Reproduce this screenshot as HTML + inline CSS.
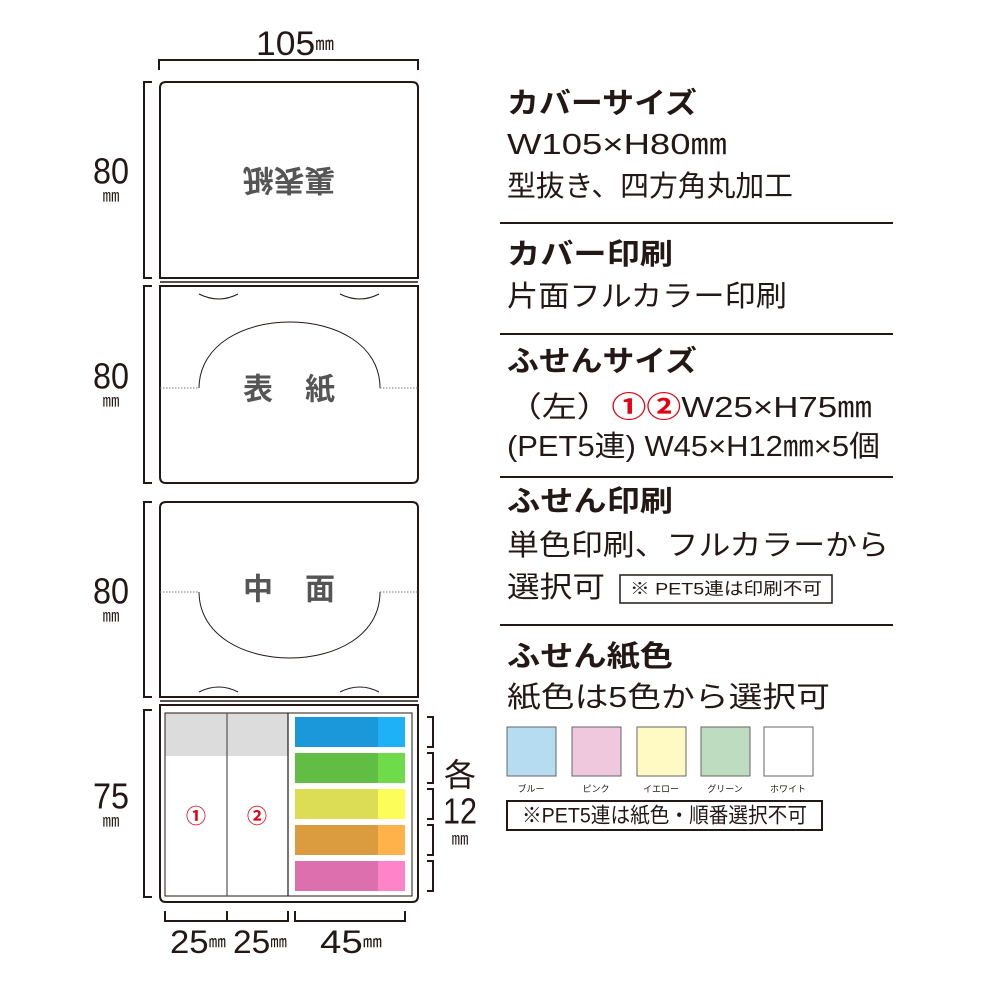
<!DOCTYPE html>
<html><head><meta charset="utf-8"><style>
html,body{margin:0;padding:0;background:#fff}
svg{display:block}
text{font-family:"Liberation Sans","Noto Sans CJK JP",sans-serif;fill:#231815}
</style></head><body>
<svg width="1000" height="1000" viewBox="0 0 1000 1000" xmlns="http://www.w3.org/2000/svg">
<g fill="none" stroke="#231815" stroke-width="2">
<path d="M159,70 V60 H418 V70"/>
<path d="M152,82 H144 V278 H152"/>
<path d="M152,286 H144 V483 H152"/>
<path d="M152,502 H144 V697 H152"/>
<path d="M152,710 H144 V897 H152"/>
<path d="M160,278 V88 Q160,82 166,82 H412 Q418,82 418,88 V278 Z"/>
<path d="M160,286 V477 Q160,483 166,483 H412 Q418,483 418,477 V286 Z"/>
<line x1="160" y1="282" x2="418" y2="282" stroke-width="1.5"/>
<path d="M160,697 V508 Q160,502 166,502 H412 Q418,502 418,508 V697 Z"/>
<path d="M160,705 V896 Q160,902 166,902 H412 Q418,902 418,896 V705 Z"/>
<line x1="160" y1="701" x2="418" y2="701" stroke-width="1.5"/>
</g>
<g fill="none" stroke="#231815" stroke-width="1">
<path d="M199,294 Q219,304 238,294"/>
<path d="M340,294 Q360,304 379,294"/>
<path d="M199,388 C200,300 380,300 380,388"/>
<path d="M199,592 C200,680 380,680 380,592"/>
<path d="M199,692 Q219,682 238,692"/>
<path d="M340,692 Q360,682 379,692"/>
</g>
<g stroke="#777" stroke-width="1" stroke-dasharray="1.5,1.5">
<line x1="160" y1="388" x2="199" y2="388"/><line x1="380" y1="388" x2="418" y2="388"/>
<line x1="160" y1="592" x2="199" y2="592"/><line x1="380" y1="592" x2="418" y2="592"/>
</g>
<g font-weight="bold" font-size="30">
<text x="243" y="179" dominant-baseline="central" transform="rotate(180 289 179)" textLength="92" lengthAdjust="spacingAndGlyphs" style="fill:#555">裏表紙</text>
<text x="243" y="390" dominant-baseline="central" textLength="92" lengthAdjust="spacing" style="fill:#555">表紙</text>
<text x="243" y="590" dominant-baseline="central" textLength="92" lengthAdjust="spacing" style="fill:#555">中面</text>
</g>
<rect x="165" y="713" width="62" height="43" fill="#dcdcdc"/>
<rect x="227" y="713" width="61" height="43" fill="#dcdcdc"/>
<rect x="165" y="713" width="247" height="183" fill="none" stroke="#231815" stroke-width="1"/>
<line x1="227" y1="713" x2="227" y2="896" stroke="#555" stroke-width="1.2"/>
<line x1="288" y1="713" x2="288" y2="896" stroke="#231815" stroke-width="1.2"/>
<g font-size="20" font-weight="bold">
<text x="196" y="817" text-anchor="middle" dominant-baseline="central" style="fill:#e60012">①</text>
<text x="257" y="817" text-anchor="middle" dominant-baseline="central" style="fill:#e60012">②</text>
</g>
<rect x="295" y="717" width="83" height="30" fill="#1a98d9"/><rect x="378" y="717" width="27" height="30" fill="#1eb1f5"/>
<rect x="295" y="753" width="83" height="30" fill="#62bd44"/><rect x="378" y="753" width="27" height="30" fill="#6fdb4a"/>
<rect x="295" y="789" width="83" height="30" fill="#dcdc55"/><rect x="378" y="789" width="27" height="30" fill="#fdfd5a"/>
<rect x="295" y="825" width="83" height="30" fill="#db9c40"/><rect x="378" y="825" width="27" height="30" fill="#fdb34a"/>
<rect x="295" y="861" width="83" height="30" fill="#dd6fae"/><rect x="378" y="861" width="27" height="30" fill="#fd84c8"/>
<g fill="none" stroke="#231815" stroke-width="2">
<path d="M427,717 H433 V747 H427"/>
<path d="M427,753 H433 V783 H427"/>
<path d="M427,789 H433 V819 H427"/>
<path d="M427,825 H433 V855 H427"/>
<path d="M427,861 H433 V891 H427"/>
<path d="M165,911 V921 H288 V911 M227,911 V921"/>
<path d="M295,911 V921 H405 V911"/>
</g>
<text x="256" y="44" font-size="34" dominant-baseline="central" textLength="78" lengthAdjust="spacingAndGlyphs">105<tspan font-size="18">㎜</tspan></text>
<g font-size="36">
<text x="111" y="171" text-anchor="middle" dominant-baseline="central" textLength="36" lengthAdjust="spacingAndGlyphs">80</text>
<text x="111" y="376" text-anchor="middle" dominant-baseline="central" textLength="36" lengthAdjust="spacingAndGlyphs">80</text>
<text x="111" y="591" text-anchor="middle" dominant-baseline="central" textLength="36" lengthAdjust="spacingAndGlyphs">80</text>
<text x="111" y="796" text-anchor="middle" dominant-baseline="central" textLength="36" lengthAdjust="spacingAndGlyphs">75</text>
<text x="460" y="775" text-anchor="middle" dominant-baseline="central" font-size="32">各</text>
<text x="460" y="811" text-anchor="middle" dominant-baseline="central" textLength="34" lengthAdjust="spacingAndGlyphs">12</text>
</g>
<g font-size="17">
<text x="111" y="196" text-anchor="middle" dominant-baseline="central">㎜</text>
<text x="111" y="401" text-anchor="middle" dominant-baseline="central">㎜</text>
<text x="111" y="616" text-anchor="middle" dominant-baseline="central">㎜</text>
<text x="111" y="821" text-anchor="middle" dominant-baseline="central">㎜</text>
<text x="460" y="839" text-anchor="middle" dominant-baseline="central">㎜</text>
</g>
<g font-size="32">
<text x="170" y="942" dominant-baseline="central" textLength="56" lengthAdjust="spacingAndGlyphs">25<tspan font-size="16">㎜</tspan></text>
<text x="233" y="942" dominant-baseline="central" textLength="54" lengthAdjust="spacingAndGlyphs">25<tspan font-size="16">㎜</tspan></text>
<text x="320" y="942" dominant-baseline="central" textLength="62" lengthAdjust="spacingAndGlyphs">45<tspan font-size="16">㎜</tspan></text>
</g>
<g stroke="#231815" stroke-width="2">
<line x1="500" y1="223" x2="893" y2="223"/>
<line x1="500" y1="334" x2="893" y2="334"/>
<line x1="500" y1="477" x2="893" y2="477"/>
<line x1="500" y1="625" x2="893" y2="625"/>
</g>
<g dominant-baseline="central">
<text x="507" y="104" font-size="29" font-weight="bold" textLength="190" lengthAdjust="spacingAndGlyphs">カバーサイズ</text>
<text x="507" y="145" font-size="29" textLength="220" lengthAdjust="spacingAndGlyphs">W105×H80㎜</text>
<text x="507" y="187" font-size="29" textLength="286" lengthAdjust="spacingAndGlyphs">型抜き、四方角丸加工</text>
<text x="507" y="255" font-size="29" font-weight="bold" textLength="166" lengthAdjust="spacingAndGlyphs">カバー印刷</text>
<text x="507" y="297" font-size="29" textLength="280" lengthAdjust="spacingAndGlyphs">片面フルカラー印刷</text>
<text x="507" y="362" font-size="29" font-weight="bold" textLength="190" lengthAdjust="spacingAndGlyphs">ふせんサイズ</text>
<text x="507" y="408" font-size="29" textLength="365" lengthAdjust="spacingAndGlyphs">（左）<tspan style="fill:#e60012" font-weight="bold">①②</tspan>W25×H75㎜</text>
<text x="507" y="447" font-size="29" textLength="373" lengthAdjust="spacingAndGlyphs">(PET5連) W45×H12㎜×5個</text>
<text x="507" y="502" font-size="29" font-weight="bold" textLength="166" lengthAdjust="spacingAndGlyphs">ふせん印刷</text>
<text x="507" y="546" font-size="29" textLength="382" lengthAdjust="spacingAndGlyphs">単色印刷、フルカラーから</text>
<text x="507" y="588" font-size="29" textLength="98" lengthAdjust="spacingAndGlyphs">選択可</text>
<text x="507" y="657" font-size="29" font-weight="bold" textLength="166" lengthAdjust="spacingAndGlyphs">ふせん紙色</text>
<text x="507" y="698" font-size="29" textLength="323" lengthAdjust="spacingAndGlyphs">紙色は5色から選択可</text>
</g>
<rect x="620" y="575" width="212" height="28" fill="none" stroke="#231815" stroke-width="1.5"/>
<text x="630" y="589" font-size="17" dominant-baseline="central" textLength="192" lengthAdjust="spacingAndGlyphs">※ PET5連は印刷不可</text>
<g stroke="#666" stroke-width="1">
<rect x="507" y="727" width="49" height="49" fill="#b6dcf2"/>
<rect x="572" y="727" width="49" height="49" fill="#f0c8dd"/>
<rect x="637" y="727" width="49" height="49" fill="#fff9c4"/>
<rect x="701" y="727" width="49" height="49" fill="#bedcc0"/>
<rect x="764" y="727" width="49" height="49" fill="#ffffff"/>
</g>
<g font-size="9" text-anchor="middle" dominant-baseline="central">
<text x="531" y="789">ブルー</text>
<text x="596" y="789">ピンク</text>
<text x="661" y="789">イエロー</text>
<text x="725" y="789">グリーン</text>
<text x="788" y="789">ホワイト</text>
</g>
<rect x="507" y="801" width="315" height="29" fill="none" stroke="#231815" stroke-width="2"/>
<text x="522" y="816" font-size="21" dominant-baseline="central" textLength="285" lengthAdjust="spacingAndGlyphs">※PET5連は紙色・順番選択不可</text>
</svg>
</body></html>
